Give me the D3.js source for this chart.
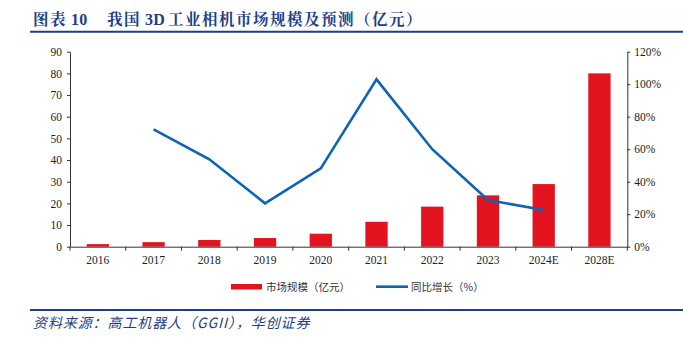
<!DOCTYPE html>
<html><head><meta charset="utf-8">
<script src="https://cdn.jsdelivr.net/npm/d3@7"></script>
<style>
body{margin:0;background:#fff;}
svg{display:block;}
</style></head>
<body><svg id="c" width="683" height="347"></svg>
<script>
const categories = ["2016","2017","2018","2019","2020","2021","2022","2023","2024E","2028E"];
const marketSize = [1.2, 2.1, 3.1, 4.0, 6.0, 11.5, 18.5, 23.7, 28.9, 80.0];
const growth = [null, 72.2, 53.8, 26.7, 48.2, 103, 60, 28.7, 22.6, null];
const leftTicks = [0,10,20,30,40,50,60,70,80,90];
const rightTicks = [0,20,40,60,80,100,120];
const titleParts = ["图表", "10", "我国", "3D", "工业相机市场规模及预测（亿元）"];
const legendLabels = ["市场规模（亿元）", "同比增长（%）"];
const sourceText = "资料来源：高工机器人（GGII），华创证券";

const RED = "#e3141f", BLUE = "#0b64b5", NAVY = "#1c3f86";
const svg = d3.select("#c");
const L = 70, R = 627.3, T = 51.7, B = 246.7;

const x = d3.scaleBand().domain(categories).range([L, R]).paddingInner(0.6).paddingOuter(0.3);
const xb = d3.scaleBand().domain(categories).range([L, R]);
const yL = d3.scaleLinear().domain([0, 90]).range([B, T]);
const yR = d3.scaleLinear().domain([0, 120]).range([B, T]);

// title
const titleX = [33, 71, 107, 145, 168];
const tt = svg.append("text").attr("y", 25)
  .attr("font-family", "'Noto Serif CJK SC','Noto Sans CJK SC',serif")
  .attr("font-weight", "bold").attr("font-size", 15.5).attr("fill", NAVY)
  .attr("letter-spacing", 1.5);
tt.selectAll("tspan").data(titleParts).join("tspan")
  .attr("x", (d,i) => titleX[i])
  .attr("font-family", (d,i) => (i === 1 || i === 3) ? "'Liberation Serif',serif" : null)
  .attr("font-size", (d,i) => (i === 1 || i === 3) ? 16 : null)
  .attr("letter-spacing", (d,i) => (i === 1 || i === 3) ? 0.3 : null)
  .text(d => d);
svg.append("line").attr("x1", 30).attr("x2", 683).attr("y1", 31.7).attr("y2", 31.7)
  .attr("stroke", NAVY).attr("stroke-width", 2);

// bars
svg.append("g").selectAll("rect").data(categories).join("rect")
  .attr("x", d => x(d)).attr("width", x.bandwidth())
  .attr("y", (d,i) => yL(marketSize[i])).attr("height", (d,i) => B - yL(marketSize[i]))
  .attr("fill", RED);

// line
const pts = categories.map((d,i) => ({c:d, v:growth[i]}));
svg.append("path").datum(pts)
  .attr("d", d3.line().defined(d => d.v != null)
    .x(d => xb(d.c) + xb.bandwidth()/2).y(d => yR(d.v)))
  .attr("fill", "none").attr("stroke", BLUE).attr("stroke-width", 2.6)
  .attr("stroke-linejoin", "miter");

const tickFont = "'Liberation Serif','Times New Roman',serif";
function styleAxis(g){
  g.select(".domain").attr("stroke", "#333");
  g.selectAll(".tick line").attr("stroke", "#333");
  g.selectAll("text").attr("font-family", tickFont).attr("font-size", 11.5).attr("fill", "#222");
}

// left axis
svg.append("g").attr("transform", `translate(${L},0)`)
  .call(d3.axisLeft(yL).tickValues(leftTicks).tickSize(3).tickPadding(5).tickSizeOuter(0))
  .call(styleAxis);
// right axis
svg.append("g").attr("transform", `translate(${R},0)`)
  .call(d3.axisRight(yR).tickValues(rightTicks).tickSize(3).tickPadding(4).tickSizeOuter(0)
    .tickFormat(d => d + "%"))
  .call(styleAxis);
// x axis
const gx = svg.append("g").attr("transform", `translate(0,${B})`)
  .call(d3.axisBottom(xb).tickSize(0).tickPadding(9).tickSizeOuter(0))
  .call(styleAxis);
gx.selectAll(".tick line").remove();
gx.selectAll(".bt").data(categories.slice(1).concat(["__end"])).join("line")
  .attr("x1", d => d === "__end" ? R : xb(d)).attr("x2", d => d === "__end" ? R : xb(d))
  .attr("y1", 0).attr("y2", 4).attr("stroke", "#333");
gx.append("line").attr("x1", L).attr("x2", L).attr("y1", 0).attr("y2", 4).attr("stroke", "#333");

// legend
const lg = svg.append("g").attr("font-family", "'Noto Sans CJK SC',sans-serif").attr("font-size", 10.5).attr("fill", "#333");
lg.append("rect").attr("x", 231).attr("y", 284).attr("width", 31).attr("height", 5.5).attr("fill", RED);
lg.append("text").attr("x", 266).attr("y", 290.5).text(legendLabels[0]);
lg.append("line").attr("x1", 376).attr("x2", 408).attr("y1", 286.7).attr("y2", 286.7).attr("stroke", BLUE).attr("stroke-width", 2.6);
lg.append("text").attr("x", 411).attr("y", 290.5).text(legendLabels[1]);

// source
svg.append("line").attr("x1", 30).attr("x2", 683).attr("y1", 310).attr("y2", 310)
  .attr("stroke", NAVY).attr("stroke-width", 2);
svg.append("text").attr("x", 33).attr("y", 328)
  .attr("font-family", "'Noto Sans CJK SC',sans-serif").attr("font-style", "italic")
  .attr("font-size", 14).attr("letter-spacing", 0.9).attr("fill", NAVY).text(sourceText);
</script></body></html>
